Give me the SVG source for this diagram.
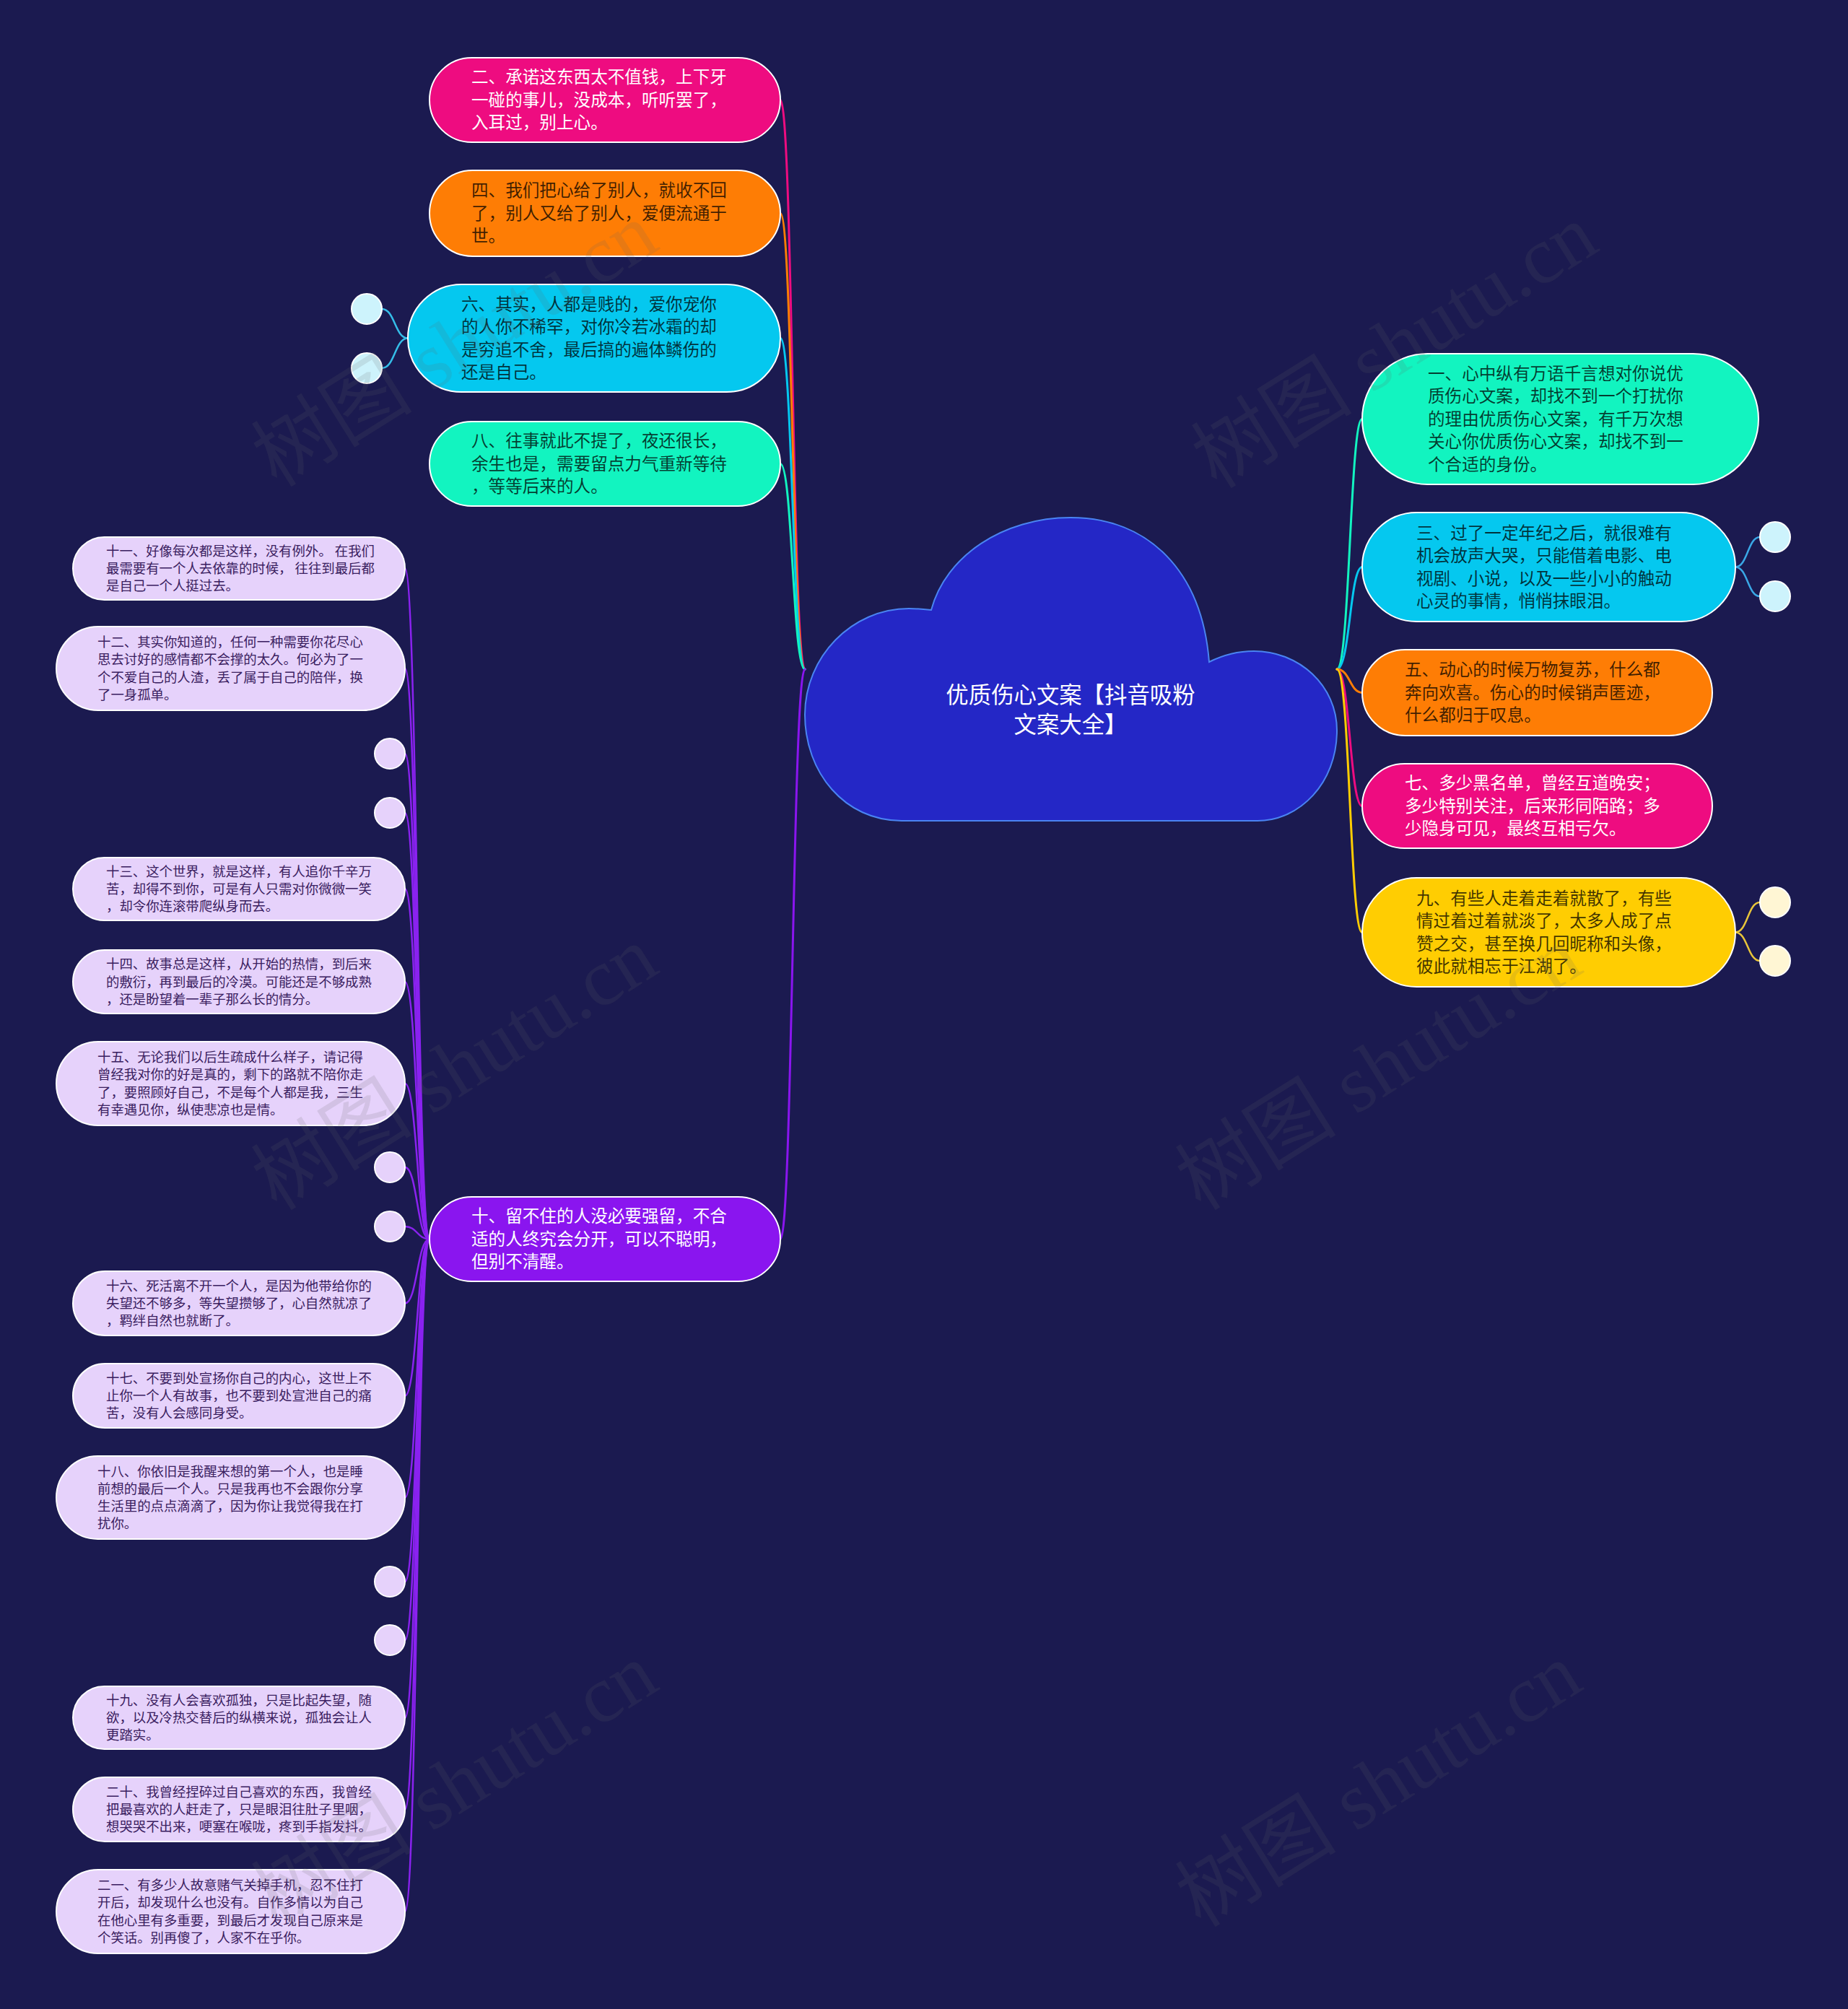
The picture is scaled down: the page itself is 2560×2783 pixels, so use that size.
<svg xmlns="http://www.w3.org/2000/svg" width="2560" height="2783" viewBox="0 0 2560 2783">
<defs>
<style>
.bg{fill:#1b1a50}
.n{stroke:#ffffff;stroke-width:2}
.pink{fill:#ee0c80}
.orange{fill:#fe7d05}
.cyan{fill:#05c8ef}
.teal{fill:#12f4c0}
.yellow{fill:#ffcd02}
.purple{fill:#8a15ef}
.lav{fill:#e6d2fb}
.cc{fill:#cdf3fc}
.cy{fill:#fff6d4}
.t{font-family:"Noto Sans CJK SC","Noto Sans",sans-serif;font-size:23.6px}
.ts{font-family:"Noto Sans CJK SC","Noto Sans",sans-serif;font-size:18.4px;fill:#3a2060}
.w{fill:#ffffff}
.d{fill:#000000;fill-opacity:0.75}
.c{fill:none;stroke-width:3;stroke-linecap:round}
.cs{fill:none;stroke-width:2.5;stroke-linecap:round}
.wm{font-family:"Liberation Serif","Noto Sans CJK SC",serif;font-size:112px;fill:#646464;fill-opacity:0.15}
</style>
</defs>
<rect class="bg" x="0" y="0" width="2560" height="2783"/>

<g id="connectors">
<path class="c" stroke="#ee0c80" d="M1115,927 C1098,927 1098,138.5 1081,138.5"/>
<path class="c" stroke="#fe7d05" d="M1115,927 C1098,927 1098,295.5 1081,295.5"/>
<path class="c" stroke="#05c8ef" d="M1115,927 C1098,927 1098,468.5 1081,468.5"/>
<path class="c" stroke="#12f4c0" d="M1115,927 C1098,927 1098,642.5 1081,642.5"/>
<path class="c" stroke="#8a15ef" d="M1115,927 C1098,927 1098,1716.5 1081,1716.5"/>
<path class="c" stroke="#12f4c0" d="M1852,927 C1870,927 1870,580.5 1887,580.5"/>
<path class="c" stroke="#05c8ef" d="M1852,927 C1870,927 1870,785.5 1887,785.5"/>
<path class="c" stroke="#fe7d05" d="M1852,927 C1870,927 1870,959.5 1887,959.5"/>
<path class="c" stroke="#ee0c80" d="M1852,927 C1870,927 1870,1116.5 1887,1116.5"/>
<path class="c" stroke="#ffcd02" d="M1852,927 C1870,927 1870,1291.5 1887,1291.5"/>
<path class="cs" stroke="#35bde8" d="M565,468.5 C547,468.5 547,428 529,428"/>
<path class="cs" stroke="#35bde8" d="M565,468.5 C547,468.5 547,510 529,510"/>
<path class="cs" stroke="#3aa8e6" d="M2404,785.5 C2421,785.5 2421,744 2438,744"/>
<path class="cs" stroke="#3aa8e6" d="M2404,785.5 C2421,785.5 2421,826 2438,826"/>
<path class="cs" stroke="#e8c53a" d="M2404,1291.5 C2421,1291.5 2421,1250 2438,1250"/>
<path class="cs" stroke="#e8c53a" d="M2404,1291.5 C2421,1291.5 2421,1331 2438,1331"/>
<g stroke="#8a22f0">
<path class="cs" d="M595,1716.5 C578,1716.5 578,787.5 561,787.5"/>
<path class="cs" d="M595,1716.5 C578,1716.5 578,926 561,926"/>
<path class="cs" d="M595,1716.5 C578,1716.5 578,1044 561,1044"/>
<path class="cs" d="M595,1716.5 C578,1716.5 578,1126 561,1126"/>
<path class="cs" d="M595,1716.5 C578,1716.5 578,1231.5 561,1231.5"/>
<path class="cs" d="M595,1716.5 C578,1716.5 578,1360 561,1360"/>
<path class="cs" d="M595,1716.5 C578,1716.5 578,1501 561,1501"/>
<path class="cs" d="M595,1716.5 C578,1716.5 578,1617 561,1617"/>
<path class="cs" d="M595,1716.5 C578,1716.5 578,1699 561,1699"/>
<path class="cs" d="M595,1716.5 C578,1716.5 578,1805.5 561,1805.5"/>
<path class="cs" d="M595,1716.5 C578,1716.5 578,1933.5 561,1933.5"/>
<path class="cs" d="M595,1716.5 C578,1716.5 578,2074.5 561,2074.5"/>
<path class="cs" d="M595,1716.5 C578,1716.5 578,2191 561,2191"/>
<path class="cs" d="M595,1716.5 C578,1716.5 578,2272 561,2272"/>
<path class="cs" d="M595,1716.5 C578,1716.5 578,2379.5 561,2379.5"/>
<path class="cs" d="M595,1716.5 C578,1716.5 578,2506.5 561,2506.5"/>
<path class="cs" d="M595,1716.5 C578,1716.5 578,2648 561,2648"/>
</g>
</g>

<g id="root">
<path d="M1290,845 C1310,770 1390,717 1483,717 C1590,717 1665,790 1675,917 C1697,906 1716,902 1737,902 C1800,902 1852,950 1852,1012 C1852,1085 1800,1137 1742,1137 L1249,1137 C1170,1137 1115,1070 1115,990 C1115,910 1180,843 1259,843 C1270,843 1280,844 1290,845 Z" fill="#2427c6" stroke="#4a84f2" stroke-width="2"/>
<text class="t w" style="font-size:31.4px" text-anchor="middle"><tspan x="1483" y="974">优质伤心文案【抖音吸粉</tspan><tspan x="1483" y="1015">文案大全】</tspan></text>
</g>

<g id="n2"><rect class="n pink" x="595" y="80" width="486" height="117" rx="58.5"/>
<text class="t w"><tspan x="653" y="115.3">二、承诺这东西太不值钱，上下牙</tspan><tspan x="653" y="146.8">一碰的事儿，没成本，听听罢了，</tspan><tspan x="653" y="178.3">入耳过，别上心。</tspan></text></g>

<g id="n4"><rect class="n orange" x="595" y="236" width="486" height="119" rx="59.5"/>
<text class="t d"><tspan x="653" y="272.3">四、我们把心给了别人，就收不回</tspan><tspan x="653" y="303.8">了，别人又给了别人，爱便流通于</tspan><tspan x="653" y="335.3">世。</tspan></text></g>

<g id="n6"><rect class="n cyan" x="565" y="394" width="516" height="149" rx="74.5"/>
<text class="t d"><tspan x="639" y="429.5">六、其实，人都是贱的，爱你宠你</tspan><tspan x="639" y="461">的人你不稀罕，对你冷若冰霜的却</tspan><tspan x="639" y="492.5">是穷追不舍，最后搞的遍体鳞伤的</tspan><tspan x="639" y="524">还是自己。</tspan></text></g>
<g id="n6a"><circle class="n cc" cx="508" cy="428" r="21"/></g>
<g id="n6b"><circle class="n cc" cx="508" cy="510" r="21"/></g>

<g id="n8"><rect class="n teal" x="595" y="584" width="486" height="117" rx="58.5"/>
<text class="t d"><tspan x="653" y="619.3">八、往事就此不提了，夜还很长，</tspan><tspan x="653" y="650.8">余生也是，需要留点力气重新等待</tspan><tspan x="653" y="682.3">，等等后来的人。</tspan></text></g>

<g id="n1"><rect class="n teal" x="1887" y="490" width="549" height="181" rx="90.5"/>
<text class="t d"><tspan x="1978" y="525.8">一、心中纵有万语千言想对你说优</tspan><tspan x="1978" y="557.3">质伤心文案，却找不到一个打扰你</tspan><tspan x="1978" y="588.8">的理由优质伤心文案，有千万次想</tspan><tspan x="1978" y="620.3">关心你优质伤心文案，却找不到一</tspan><tspan x="1978" y="651.8">个合适的身份。</tspan></text></g>

<g id="n3"><rect class="n cyan" x="1887" y="710" width="517" height="151" rx="75.5"/>
<text class="t d"><tspan x="1962" y="746.5">三、过了一定年纪之后，就很难有</tspan><tspan x="1962" y="778">机会放声大哭，只能借着电影、电</tspan><tspan x="1962" y="809.5">视剧、小说，以及一些小小的触动</tspan><tspan x="1962" y="841">心灵的事情，悄悄抹眼泪。</tspan></text></g>
<g id="n3a"><circle class="n cc" cx="2459" cy="744" r="21"/></g>
<g id="n3b"><circle class="n cc" cx="2459" cy="826" r="21"/></g>

<g id="n5"><rect class="n orange" x="1887" y="900" width="485" height="119" rx="59.5"/>
<text class="t d"><tspan x="1946" y="936.3">五、动心的时候万物复苏，什么都</tspan><tspan x="1946" y="967.8">奔向欢喜。伤心的时候销声匿迹，</tspan><tspan x="1946" y="999.3">什么都归于叹息。</tspan></text></g>

<g id="n7"><rect class="n pink" x="1887" y="1058" width="485" height="117" rx="58.5"/>
<text class="t w"><tspan x="1946" y="1093.3">七、多少黑名单，曾经互道晚安；</tspan><tspan x="1946" y="1124.8">多少特别关注，后来形同陌路；多</tspan><tspan x="1946" y="1156.3">少隐身可见，最终互相亏欠。</tspan></text></g>

<g id="n9"><rect class="n yellow" x="1887" y="1216" width="517" height="151" rx="75.5"/>
<text class="t d"><tspan x="1962" y="1252.5">九、有些人走着走着就散了，有些</tspan><tspan x="1962" y="1284">情过着过着就淡了，太多人成了点</tspan><tspan x="1962" y="1315.5">赞之交，甚至换几回昵称和头像，</tspan><tspan x="1962" y="1347">彼此就相忘于江湖了。</tspan></text></g>
<g id="n9a"><circle class="n cy" cx="2459" cy="1250" r="21"/></g>
<g id="n9b"><circle class="n cy" cx="2459" cy="1331" r="21"/></g>

<g id="n10"><rect class="n purple" x="595" y="1658" width="486" height="117" rx="58.5"/>
<text class="t w"><tspan x="653" y="1693.3">十、留不住的人没必要强留，不合</tspan><tspan x="653" y="1724.8">适的人终究会分开，可以不聪明，</tspan><tspan x="653" y="1756.3">但别不清醒。</tspan></text></g>

<g id="n11"><rect class="n lav" x="101" y="744" width="460" height="87" rx="43.5"/>
<text class="ts"><tspan x="147" y="769.8">十一、好像每次都是这样，没有例外。 在我们</tspan><tspan x="147" y="794">最需要有一个人去依靠的时候， 往往到最后都</tspan><tspan x="147" y="818.2">是自己一个人挺过去。</tspan></text></g>

<g id="n12"><rect class="n lav" x="78" y="868" width="483" height="116" rx="58"/>
<text class="ts"><tspan x="135" y="896.2">十二、其实你知道的，任何一种需要你花尽心</tspan><tspan x="135" y="920.4">思去讨好的感情都不会撑的太久。何必为了一</tspan><tspan x="135" y="944.6">个不爱自己的人渣，丢了属于自己的陪伴，换</tspan><tspan x="135" y="968.8">了一身孤单。</tspan></text></g>

<g id="n10a"><circle class="n lav" cx="540" cy="1044" r="21"/></g>
<g id="n10b"><circle class="n lav" cx="540" cy="1126" r="21"/></g>

<g id="n13"><rect class="n lav" x="101" y="1188" width="460" height="87" rx="43.5"/>
<text class="ts"><tspan x="147" y="1213.8">十三、这个世界，就是这样，有人追你千辛万</tspan><tspan x="147" y="1238">苦，却得不到你，可是有人只需对你微微一笑</tspan><tspan x="147" y="1262.2">，却令你连滚带爬纵身而去。</tspan></text></g>

<g id="n14"><rect class="n lav" x="101" y="1316" width="460" height="88" rx="44"/>
<text class="ts"><tspan x="147" y="1342.3">十四、故事总是这样，从开始的热情，到后来</tspan><tspan x="147" y="1366.5">的敷衍，再到最后的冷漠。可能还是不够成熟</tspan><tspan x="147" y="1390.7">，还是盼望着一辈子那么长的情分。</tspan></text></g>

<g id="n15"><rect class="n lav" x="78" y="1443" width="483" height="116" rx="58"/>
<text class="ts"><tspan x="135" y="1471.2">十五、无论我们以后生疏成什么样子，请记得</tspan><tspan x="135" y="1495.4">曾经我对你的好是真的，剩下的路就不陪你走</tspan><tspan x="135" y="1519.6">了，要照顾好自己，不是每个人都是我，三生</tspan><tspan x="135" y="1543.8">有幸遇见你，纵使悲凉也是情。</tspan></text></g>

<g id="n10c"><circle class="n lav" cx="540" cy="1617" r="21"/></g>
<g id="n10d"><circle class="n lav" cx="540" cy="1699" r="21"/></g>

<g id="n16"><rect class="n lav" x="101" y="1761" width="460" height="89" rx="44.5"/>
<text class="ts"><tspan x="147" y="1787.8">十六、死活离不开一个人，是因为他带给你的</tspan><tspan x="147" y="1812">失望还不够多，等失望攒够了，心自然就凉了</tspan><tspan x="147" y="1836.2">，羁绊自然也就断了。</tspan></text></g>

<g id="n17"><rect class="n lav" x="101" y="1889" width="460" height="89" rx="44.5"/>
<text class="ts"><tspan x="147" y="1915.8">十七、不要到处宣扬你自己的内心，这世上不</tspan><tspan x="147" y="1940">止你一个人有故事，也不要到处宣泄自己的痛</tspan><tspan x="147" y="1964.2">苦，没有人会感同身受。</tspan></text></g>

<g id="n18"><rect class="n lav" x="78" y="2017" width="483" height="115" rx="57.5"/>
<text class="ts"><tspan x="135" y="2044.7">十八、你依旧是我醒来想的第一个人，也是睡</tspan><tspan x="135" y="2068.9">前想的最后一个人。只是我再也不会跟你分享</tspan><tspan x="135" y="2093.1">生活里的点点滴滴了，因为你让我觉得我在打</tspan><tspan x="135" y="2117.3">扰你。</tspan></text></g>

<g id="n10e"><circle class="n lav" cx="540" cy="2191" r="21"/></g>
<g id="n10f"><circle class="n lav" cx="540" cy="2272" r="21"/></g>

<g id="n19"><rect class="n lav" x="101" y="2336" width="460" height="87" rx="43.5"/>
<text class="ts"><tspan x="147" y="2361.8">十九、没有人会喜欢孤独，只是比起失望，随</tspan><tspan x="147" y="2386">欲，以及冷热交替后的纵横来说，孤独会让人</tspan><tspan x="147" y="2410.2">更踏实。</tspan></text></g>

<g id="n20"><rect class="n lav" x="101" y="2462" width="460" height="89" rx="44.5"/>
<text class="ts"><tspan x="147" y="2488.8">二十、我曾经捏碎过自己喜欢的东西，我曾经</tspan><tspan x="147" y="2513">把最喜欢的人赶走了，只是眼泪往肚子里咽，</tspan><tspan x="147" y="2537.2">想哭哭不出来，哽塞在喉咙，疼到手指发抖。</tspan></text></g>

<g id="n21"><rect class="n lav" x="78" y="2590" width="483" height="116" rx="58"/>
<text class="ts"><tspan x="135" y="2618.2">二一、有多少人故意赌气关掉手机，忍不住打</tspan><tspan x="135" y="2642.4">开后，却发现什么也没有。自作多情以为自己</tspan><tspan x="135" y="2666.6">在他心里有多重要，到最后才发现自己原来是</tspan><tspan x="135" y="2690.8">个笑话。别再傻了，人家不在乎你。</tspan></text></g>

<g id="watermarks">
<text class="wm" text-anchor="middle" transform="translate(650,510) rotate(-32)">树图 shutu.cn</text>
<text class="wm" text-anchor="middle" transform="translate(1952,512) rotate(-32)">树图 shutu.cn</text>
<text class="wm" text-anchor="middle" transform="translate(650,1512) rotate(-32)">树图 shutu.cn</text>
<text class="wm" text-anchor="middle" transform="translate(1930,1512) rotate(-32)">树图 shutu.cn</text>
<text class="wm" text-anchor="middle" transform="translate(650,2505) rotate(-32)">树图 shutu.cn</text>
<text class="wm" text-anchor="middle" transform="translate(1930,2505) rotate(-32)">树图 shutu.cn</text>
</g>
</svg>
